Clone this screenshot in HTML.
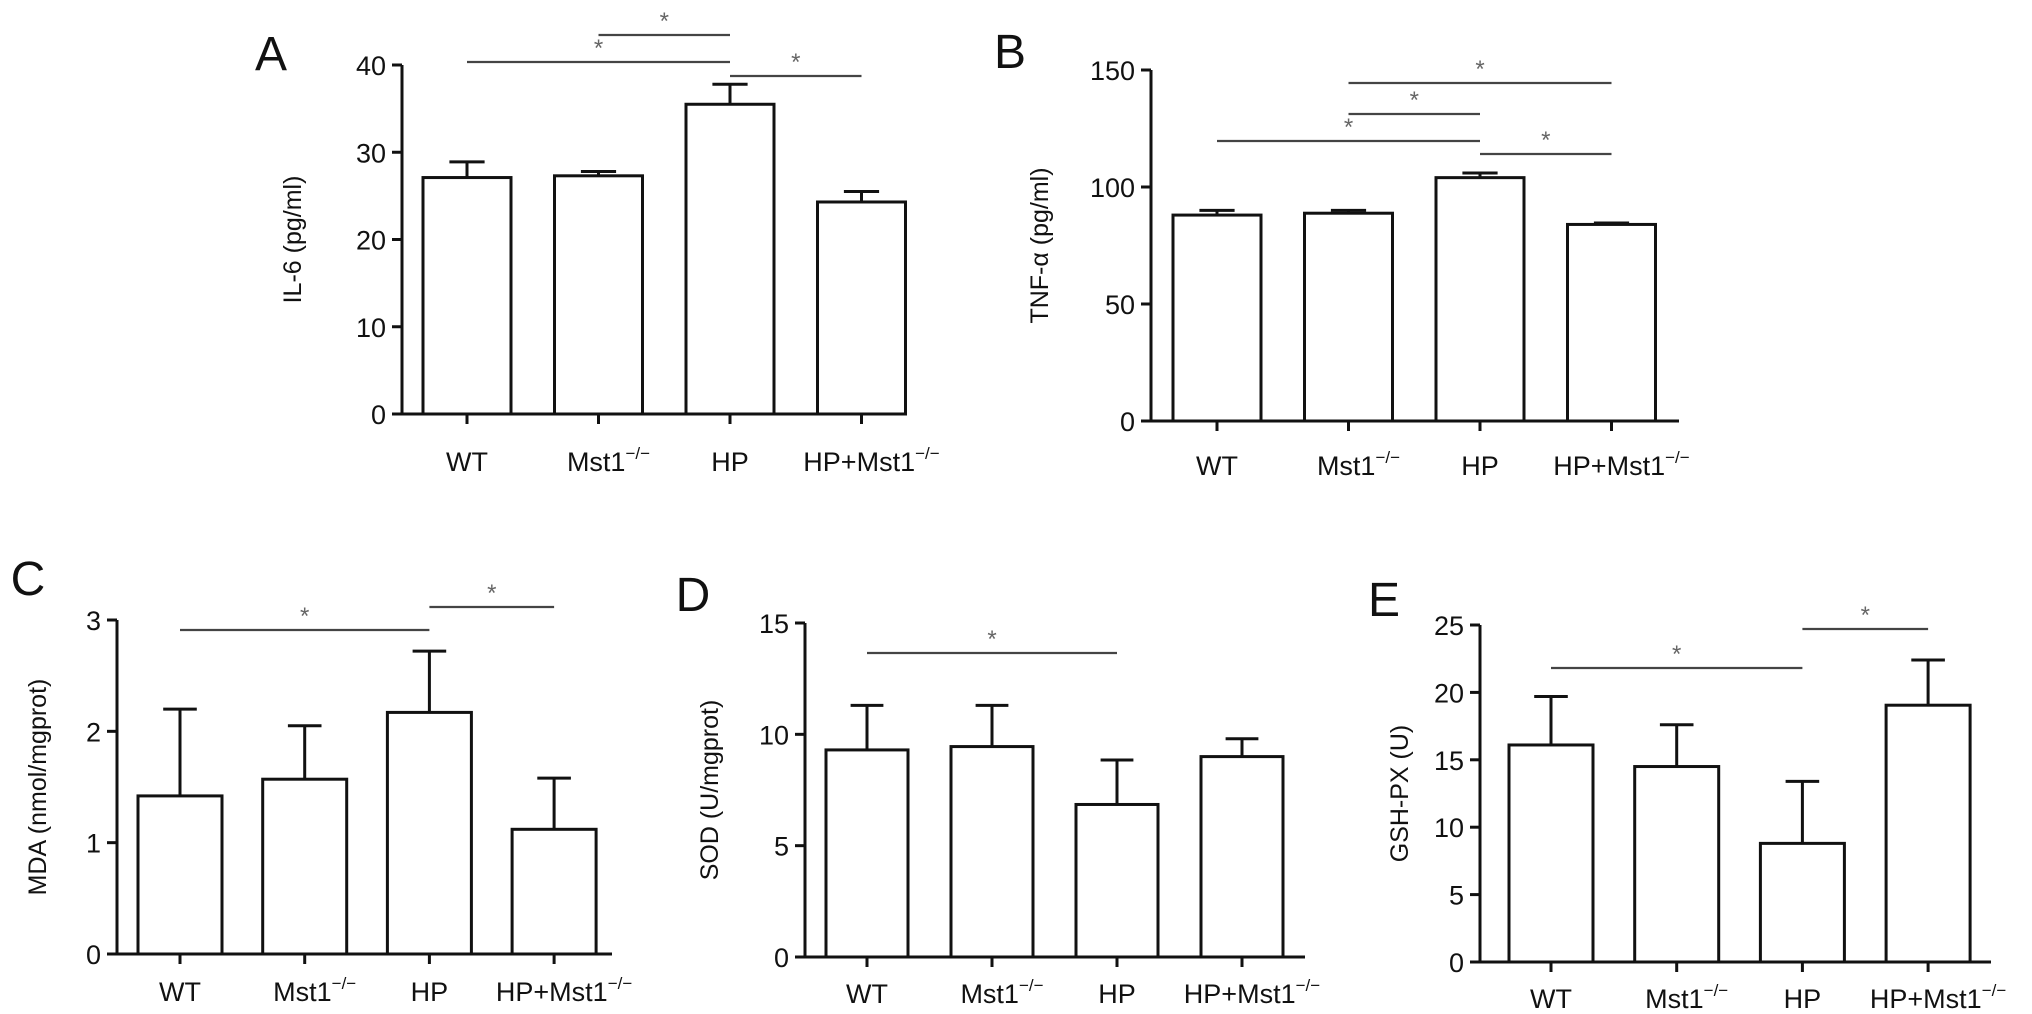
<!DOCTYPE html>
<html><head><meta charset="utf-8"><style>
html,body{margin:0;padding:0;background:#fff;}
svg{display:block;font-family:"Liberation Sans",Arial,sans-serif;}
</style></head><body>
<svg id="fig" width="2032" height="1014" viewBox="0 0 2032 1014"></svg>
<script>
const categories = ["WT", "Mst1", "HP", "HP+Mst1"];
const il6Values = [27.1, 27.3, 35.5, 24.3];
const il6Errors = [28.9, 27.8, 37.8, 25.5];
const tnfValues = [88, 88.8, 104, 84];
const tnfErrors = [90, 90, 106, 84.6];
const mdaValues = [1.42, 1.57, 2.17, 1.12];
const mdaErrors = [2.2, 2.05, 2.72, 1.58];
const sodValues = [9.3, 9.45, 6.85, 9.0];
const sodErrors = [11.3, 11.3, 8.85, 9.8];
const gshValues = [16.1, 14.5, 8.8, 19.05];
const gshErrors = [19.7, 17.6, 13.4, 22.4];
const il6Ticks = [0, 10, 20, 30, 40];
const tnfTicks = [0, 50, 100, 150];
const mdaTicks = [0, 1, 2, 3];
const sodTicks = [0, 5, 10, 15];
const gshTicks = [0, 5, 10, 15, 20, 25];
const il6Sig = [[0, 2, 62], [1, 2, 35], [2, 3, 76]];
const tnfSig = [[0, 2, 141], [1, 2, 114], [1, 3, 83], [2, 3, 154]];
const mdaSig = [[0, 2, 630], [2, 3, 607]];
const sodSig = [[0, 2, 653]];
const gshSig = [[0, 2, 668], [2, 3, 629]];

const NS = "http://www.w3.org/2000/svg";
const svg = document.getElementById("fig");
function mk(tag, attrs, parent) {
  const e = document.createElementNS(NS, tag);
  for (const k in attrs) e.setAttribute(k, attrs[k]);
  (parent || svg).appendChild(e);
  return e;
}

const panels = [
  {id:"il6", letter:"A", lx:271, ly:70, title:"IL-6 (pg/ml)", tx:301, ax:402, y0:414, yTop:65, max:40, x0:467, step:131.5, bw:88, end:880, vals:il6Values, errs:il6Errors, ticks:il6Ticks, sig:il6Sig, labY:471},
  {id:"tnf", letter:"B", lx:1010, ly:68, title:"TNF-α (pg/ml)", tx:1048, ax:1151, y0:421, yTop:70, max:150, x0:1217, step:131.5, bw:88, end:1679, vals:tnfValues, errs:tnfErrors, ticks:tnfTicks, sig:tnfSig, labY:475},
  {id:"mda", letter:"C", lx:28, ly:595, title:"MDA (nmol/mgprot)", tx:46, ax:117, y0:954, yTop:620, max:3, x0:180, step:124.7, bw:84, end:612, vals:mdaValues, errs:mdaErrors, ticks:mdaTicks, sig:mdaSig, labY:1001},
  {id:"sod", letter:"D", lx:693, ly:611, title:"SOD (U/mgprot)", tx:718, ax:805, y0:957, yTop:623, max:15, x0:867, step:125, bw:82, end:1305, vals:sodValues, errs:sodErrors, ticks:sodTicks, sig:sodSig, labY:1003},
  {id:"gsh", letter:"E", lx:1384, ly:616, title:"GSH-PX (U)", tx:1408, ax:1480, y0:962, yTop:625, max:25, x0:1551, step:125.7, bw:84, end:1991, vals:gshValues, errs:gshErrors, ticks:gshTicks, sig:gshSig, labY:1008}
];

panels.forEach(p => {
  const g = mk("g", {});
  
  
  const yS = v => p.y0 - (v / p.max) * (p.y0 - p.yTop);
  const xS = i => p.x0 + i * p.step;

  const L = mk("text", {x:p.lx, y:p.ly, "font-size":48, "text-anchor":"middle", fill:"#111"}, g);
  L.textContent = p.letter;
  
  

  const T = mk("text", {x:0, y:0, "font-size":25, "text-anchor":"middle", fill:"#111", transform:`translate(${p.tx},${(p.y0+p.yTop)/2}) rotate(-90)`}, g);
  T.textContent = p.title;
  
  

  p.vals.forEach((v, i) => {
    const cx = xS(i);
    const bar = mk("rect", {x:cx - p.bw/2, y:yS(v), width:p.bw, height:p.y0 - yS(v), fill:"#fff", stroke:"#111", "stroke-width":3}, g);
    
    
    const ey = yS(p.errs[i]);
    const eb = mk("path", {d:`M${cx},${yS(v)}V${ey}M${cx - p.bw*0.2},${ey}H${cx + p.bw*0.2}`, stroke:"#111", "stroke-width":3, fill:"none"}, g);
    
    
    const lab = mk("text", {x:cx, y:p.labY, "font-size":27, "text-anchor":"middle", fill:"#111"}, g);
    
    
    if (categories[i].indexOf("Mst1") >= 0) {
      lab.appendChild(document.createTextNode(categories[i]));
      const sup = mk("tspan", {"font-size":17, dy:-12}, lab);
      sup.textContent = "−/−";
      lab.setAttribute("x", cx + 10);
    } else lab.textContent = categories[i];
    const tk = mk("line", {x1:cx, x2:cx, y1:p.y0, y2:p.y0 + 10, stroke:"#111", "stroke-width":3}, g);
    
    
  });

  const ya = mk("line", {x1:p.ax, x2:p.ax, y1:p.yTop, y2:p.y0, stroke:"#111", "stroke-width":3}, g);
  
  
  const xa = mk("line", {x1:p.ax - 10, x2:p.end, y1:p.y0, y2:p.y0, stroke:"#111", "stroke-width":3}, g);
  
  
  p.ticks.forEach(t => {
    const y = yS(t);
    const tl = mk("line", {x1:p.ax - 10, x2:p.ax, y1:y, y2:y, stroke:"#111", "stroke-width":3}, g);
    
    
    const tt = mk("text", {x:p.ax - 16, y:y + 10, "font-size":27, "text-anchor":"end", fill:"#111"}, g);
    tt.textContent = t;
    
    
  });

  p.sig.forEach(s => {
    const x1 = xS(s[0]), x2 = xS(s[1]), y = s[2];
    const sl = mk("line", {x1:x1, x2:x2, y1:y, y2:y, stroke:"#444", "stroke-width":2.2}, g);
    
    
    const st = mk("text", {x:(x1 + x2) / 2, y:y - 6, "font-size":24, "text-anchor":"middle", fill:"#666"}, g);
    st.textContent = "*";
    
    
  });
});
</script>
</body></html>
